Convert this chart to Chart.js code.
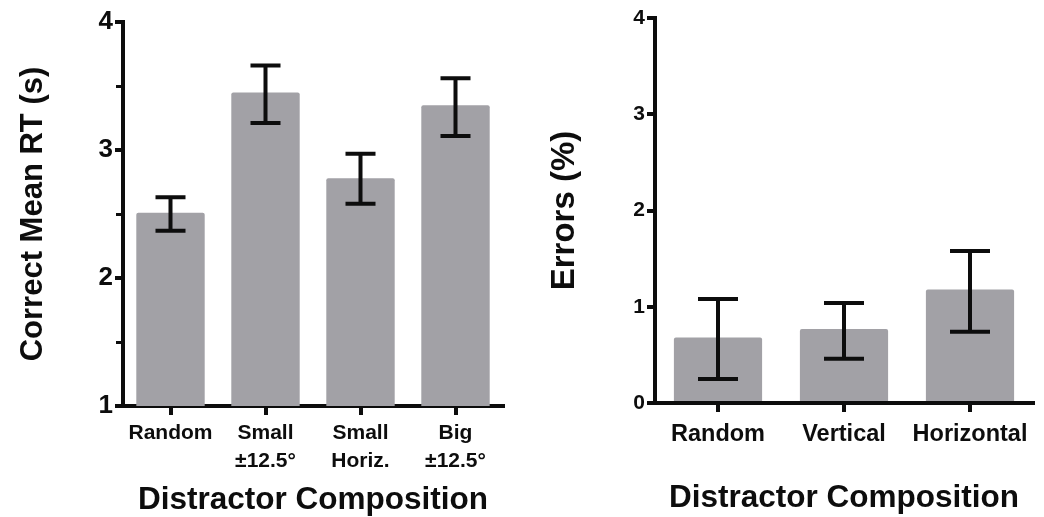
<!DOCTYPE html>
<html>
<head>
<meta charset="utf-8">
<script src="https://cdn.jsdelivr.net/npm/chart.js@4.4.0/dist/chart.umd.min.js"></script>
<style>
  body { margin:0; background:#fff; width:1044px; height:517px; overflow:hidden; }
  #left  { position:absolute; left:0;   top:0; }
  #right { position:absolute; left:520px; top:0; }
</style>
</head>
<body>
<canvas id="left" width="520" height="517"></canvas>
<canvas id="right" width="524" height="517"></canvas>
<script>
// left panel: correct mean RT
const rtCategories = [['Random'], ['Small', '±12.5°'], ['Small', 'Horiz.'], ['Big', '±12.5°']];
const rtMeans  = [2.51, 3.45, 2.78, 3.35];
const rtErrLow = [0.14, 0.24, 0.20, 0.24];
const rtErrHigh= [0.12, 0.21, 0.19, 0.21];
const rtTicks  = [1, 2, 3, 4];
const rtMinorTicks = [1.5, 2.5, 3.5];

// right panel: errors
const errCategories = ['Random', 'Vertical', 'Horizontal'];
const errMeans  = [0.68, 0.77, 1.18];
const errErrLow = [0.43, 0.31, 0.44];
const errErrHigh= [0.40, 0.27, 0.40];
const errTicks  = [0, 1, 2, 3, 4];

const FONT = '"Liberation Sans", Arial, sans-serif';
const BAR = '#a2a1a6';
const INK = '#0d0d0d';

// draws error bars + minor ticks using the chart scales
const extras = {
    id: 'extras',
    afterDatasetsDraw(chart, args, o) {
        const ctx = chart.ctx, x = chart.scales.x, y = chart.scales.y;
        ctx.save();
        ctx.strokeStyle = INK; ctx.lineWidth = 4; ctx.lineCap = 'butt';
        o.means.forEach((m, i) => {
            const cx = x.getPixelForValue(i);
            const yTop = y.getPixelForValue(m + o.hi[i]);
            const yBot = y.getPixelForValue(m - o.lo[i]);
            ctx.beginPath();
            ctx.moveTo(cx, yTop); ctx.lineTo(cx, yBot);
            ctx.moveTo(cx - o.cap/2, yTop); ctx.lineTo(cx + o.cap/2, yTop);
            ctx.moveTo(cx - o.cap/2, yBot); ctx.lineTo(cx + o.cap/2, yBot);
            ctx.stroke();
        });
        ctx.lineWidth = 3;
        (o.minor || []).forEach(v => {
            const py = Math.round(y.getPixelForValue(v)) + 0.5;
            ctx.beginPath();
            ctx.moveTo(x.left - 1, py); ctx.lineTo(x.left - 7, py);
            ctx.stroke();
        });
        ctx.restore();
    }
};

function makePanel(id, cfg) {
    return new Chart(document.getElementById(id), {
        type: 'bar',
        data: { labels: cfg.labels,
            datasets: [{ data: cfg.means, backgroundColor: BAR, borderWidth: 0,
                         borderRadius: { topLeft: 2, topRight: 2 }, borderSkipped: 'bottom',
                         categoryPercentage: cfg.catPct, barPercentage: 1 }] },
        options: {
            responsive: false, animation: false,
            layout: { padding: cfg.pad },
            plugins: { legend: { display: false }, tooltip: { enabled: false },
                       extras: { means: cfg.means, lo: cfg.lo, hi: cfg.hi, cap: cfg.cap, minor: cfg.minor } },
            scales: {
                x: {
                    afterFit: s => { s.height = cfg.xH; },
                    grid: { offset: false, drawOnChartArea: false, drawTicks: true, tickLength: cfg.xTick,
                            lineWidth: 4, color: INK },
                    border: { display: true, width: 4, color: INK },
                    ticks: { color: INK, font: { family: FONT, size: cfg.catSize, weight: 'bold', lineHeight: 1.3 },
                             padding: cfg.catPad, maxRotation: 0, autoSkip: false },
                    title: { display: true, text: 'Distractor Composition', color: INK,
                             font: { family: FONT, size: 31.5, weight: 'bold', lineHeight: 1 },
                             padding: { top: 0, bottom: cfg.xTitlePad } }
                },
                y: {
                    min: cfg.ticks[0], max: cfg.ticks[cfg.ticks.length - 1],
                    afterFit: s => { s.width = cfg.yW; },
                    afterBuildTicks: s => { s.ticks = cfg.ticks.map(v => ({ value: v })); },
                    grid: { drawOnChartArea: false, drawTicks: true, tickLength: 8, lineWidth: 4, color: INK },
                    border: { display: true, width: 4, color: INK },
                    ticks: { color: INK, font: { family: FONT, size: cfg.tickSize, weight: 'bold' }, padding: 2 },
                    title: { display: true, text: cfg.yTitle, color: INK,
                             font: { family: FONT, size: cfg.yTitleSize, weight: 'bold', lineHeight: 1 },
                             padding: { top: cfg.yTitlePad, bottom: 0 } }
                }
            }
        },
        plugins: [extras]
    });
}

makePanel('left', {
    labels: rtCategories, means: rtMeans, lo: rtErrLow, hi: rtErrHigh, ticks: rtTicks, minor: rtMinorTicks,
    catPct: 0.72, cap: 30, pad: { top: 22, right: 17, left: 0, bottom: 0 },
    xH: 111, yW: 123, xTick: 9, catSize: 21, catPad: 5, xTitlePad: 1,
    tickSize: 26, yTitle: 'Correct Mean RT (s)', yTitleSize: 31, yTitlePad: 18
});

makePanel('right', {
    labels: errCategories, means: errMeans, lo: errErrLow, hi: errErrHigh, ticks: errTicks, minor: [],
    catPct: 0.70, cap: 40, pad: { top: 18, right: 11, left: 0, bottom: 0 },
    xH: 114, yW: 135, xTick: 9, catSize: 23.5, catPad: 7, xTitlePad: 3,
    tickSize: 21, yTitle: 'Errors (%)', yTitleSize: 33, yTitlePad: 28
});
</script>
</body>
</html>
